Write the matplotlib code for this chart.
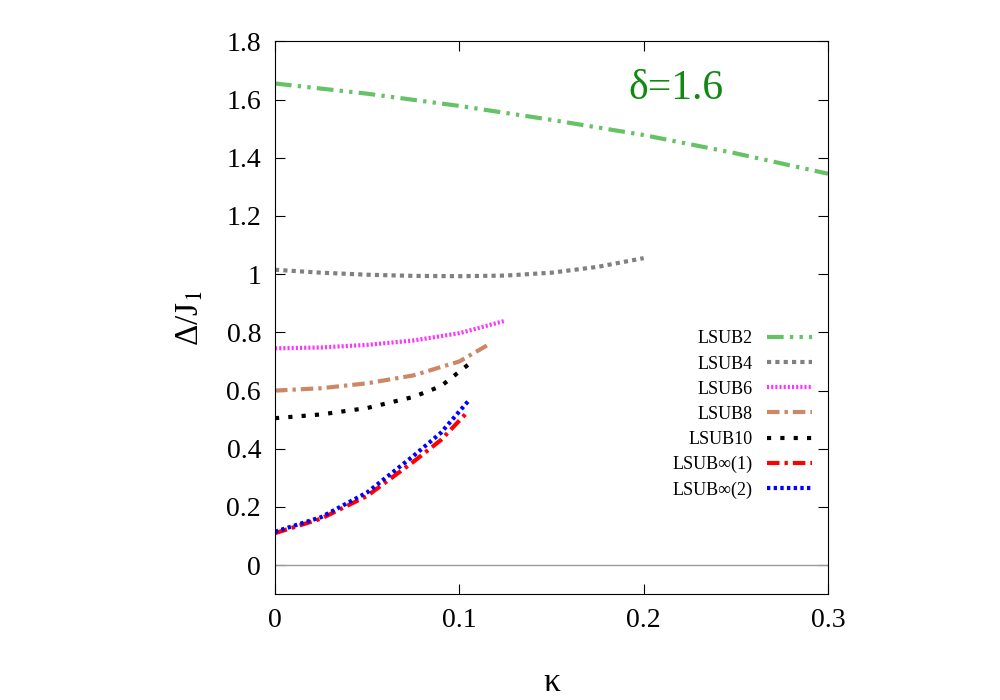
import matplotlib
matplotlib.use("Agg")
import matplotlib.pyplot as plt

plt.rcParams["font.family"] = "Liberation Serif"
plt.rcParams["mathtext.fontset"] = "stix"

x2 = [0, 0.05, 0.1, 0.15, 0.2, 0.25, 0.3]
y2 = [1.655, 1.62, 1.578, 1.53, 1.478, 1.415, 1.345]
x4 = [0, 0.025, 0.05, 0.075, 0.1, 0.125, 0.15, 0.175, 0.2]
y4 = [1.015, 1.005, 0.998, 0.994, 0.993, 0.995, 1.005, 1.025, 1.055]
x6 = [0, 0.025, 0.05, 0.075, 0.1, 0.125]
y6 = [0.745, 0.748, 0.757, 0.772, 0.797, 0.84]
x8 = [0, 0.025, 0.05, 0.075, 0.1, 0.115]
y8 = [0.6, 0.608, 0.625, 0.652, 0.7, 0.755]
x10 = [0, 0.025, 0.05, 0.075, 0.09, 0.105]
y10 = [0.505, 0.518, 0.54, 0.578, 0.615, 0.69]
xi1 = [0, 0.025, 0.05, 0.075, 0.09, 0.105]
yi1 = [0.11, 0.16, 0.238, 0.355, 0.43, 0.53]
xi2 = [0, 0.025, 0.05, 0.075, 0.09, 0.105]
yi2 = [0.115, 0.165, 0.25, 0.375, 0.455, 0.565]

fig = plt.figure(figsize=(10, 7), dpi=100)
ax = fig.add_axes([0.275, 0.151, 0.553, 0.790])
ax.axhline(0, color="#999999", lw=1)
ax.plot(x2, y2, color="#66c266", lw=3, dashes=(4, 1.5, 0.8, 1.5, 0.8, 1.5), label="LSUB2")
ax.plot(x4, y4, color="#808080", lw=3, dashes=(1, 1), label="LSUB4")
ax.plot(x6, y6, color="#ff33ff", lw=3, dashes=(0.5, 0.5), label="LSUB6")
ax.plot(x8, y8, color="#cc8866", lw=3, dashes=(3, 1.2, 0.8, 1.2), label="LSUB8")
ax.plot(x10, y10, color="black", lw=3, dashes=(1, 2.2), label="LSUB10")
ax.plot(xi1, yi1, color="red", lw=3, dashes=(3, 1.2, 0.8, 1.2), label="LSUB∞(1)")
ax.plot(xi2, yi2, color="blue", lw=3, dashes=(0.8, 0.8), label="LSUB∞(2)")

ax.set_xlim(0, 0.3)
ax.set_ylim(-0.1, 1.8)
ax.set_xticks([0, 0.1, 0.2, 0.3])
ax.set_xticklabels(["0", "0.1", "0.2", "0.3"])
ax.set_yticks([0, 0.2, 0.4, 0.6, 0.8, 1, 1.2, 1.4, 1.6, 1.8])
ax.set_yticklabels(["0", "0.2", "0.4", "0.6", "0.8", "1", "1.2", "1.4", "1.6", "1.8"])
ax.tick_params(direction="in", top=True, right=True, labelsize=20, length=7, pad=10)
ax.set_xlabel("κ", fontsize=24, labelpad=25)
ax.set_ylabel("Δ/J$_1$", fontsize=24, labelpad=15)
ax.text(0.725, 0.915, "δ=1.6", transform=ax.transAxes, color="#118811", fontsize=30, ha="center", va="center")
ax.legend(loc="center right", bbox_to_anchor=(1.0, 0.325), frameon=False, markerfirst=False,
          fontsize=13, handlelength=2.5, labelspacing=0.45)
fig.savefig("out.png")
